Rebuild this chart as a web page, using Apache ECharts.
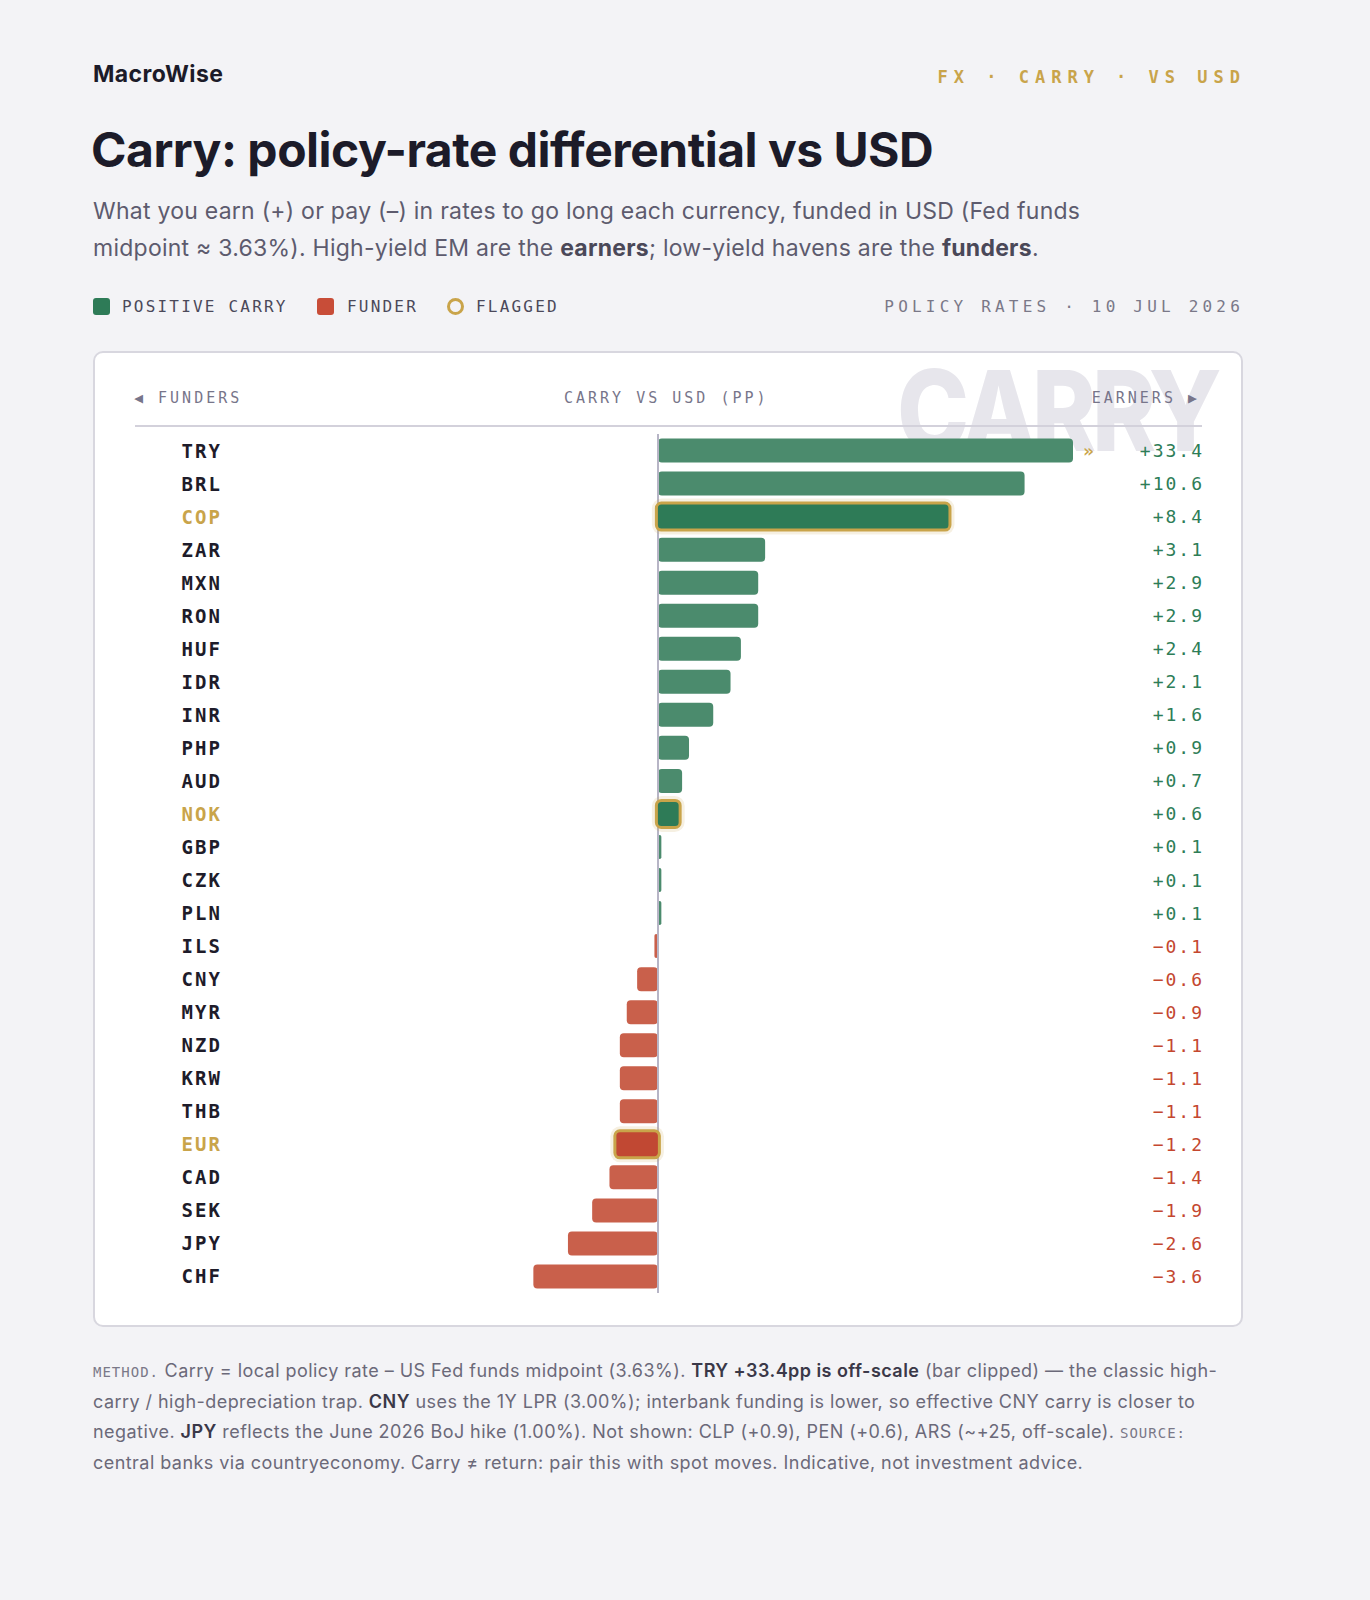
<!DOCTYPE html>
<html lang="en">
<head>
<meta charset="UTF-8">
<title>Carry: policy-rate differential vs USD</title>
<style>
  html, body { margin: 0; padding: 0; }
  body { width: 1370px; height: 1600px; background: #f3f3f6; position: relative; overflow: hidden;
         font-family: Inter, "Noto Sans", sans-serif; }
  .abs { position: absolute; white-space: nowrap; }
  .mono { font-family: "DejaVu Sans Mono", monospace; }
  #brand { left: 93px; top: 63px; font-size: 23px; line-height: 23px; font-weight: 700; color: #1c1b29; letter-spacing: 0.4px; }
  #kicker { right: 124px; top: 69px; font-size: 17px; line-height: 17px; font-weight: 700; color: #c9a44a; letter-spacing: 6px; }
  #title { left: 91px; top: 126px; font-size: 48px; line-height: 48px; font-weight: 700; color: #1c1b29; letter-spacing: -0.5px; }
  #sub { left: 93px; top: 193px; font-size: 23px; line-height: 37px; color: #5d5b6e; letter-spacing: 0.25px; }
  #sub b { color: #4a4858; font-weight: 700; }
  .leg { top: 299px; font-size: 16px; line-height: 16px; color: #4b495a; letter-spacing: 2.2px; }
  .sw { position: absolute; top: 298px; width: 17px; height: 17px; border-radius: 3px; }
  #asof { right: 126px; top: 299px; font-size: 16px; line-height: 16px; color: #7a7888; letter-spacing: 4.2px; }
  #card { left: 93px; top: 351px; width: 1146px; height: 972px; background: #fff; border: 2px solid #d8d7df; border-radius: 10px; }
  #mark { left: 897px; top: 354px; font-size: 112px; line-height: 112px; font-weight: 800; color: #e7e6ec;
          letter-spacing: -5px; transform: scaleX(0.866); transform-origin: 0 0; }
  .hd { top: 391px; font-size: 15px; line-height: 15px; color: #77758a; letter-spacing: 3px; }
  #rule { left: 135px; top: 425px; width: 1067px; height: 2px; background: #d3d1db; }
  #chart { position: absolute; left: 0; top: 0; width: 1370px; height: 1600px; letter-spacing: 2px; }
  #foot { left: 93px; top: 1356px; font-size: 18px; line-height: 30px; color: #6b6979; letter-spacing: 0.45px; }
  #foot b { color: #3a3848; font-weight: 600; }
  #foot .tag { font-family: "DejaVu Sans Mono", monospace; font-size: 14px; letter-spacing: 1px; color: #7a7888; }
</style>
</head>
<body>

  <div id="brand" class="abs">MacroWise</div>
  <div id="kicker" class="abs mono">FX · CARRY · VS USD</div>
  <div id="title" class="abs">Carry: policy-rate differential vs USD</div>
  <div id="sub" class="abs">What you earn (+) or pay (–) in rates to go long each currency, funded in USD (Fed funds<br>midpoint ≈ 3.63%). High-yield EM are the <b>earners</b>; low-yield havens are the <b>funders</b>.</div>

  <div class="sw" style="left:93px; background:#2e7b57;"></div>
  <div class="abs mono leg" style="left:122px;">POSITIVE CARRY</div>
  <div class="sw" style="left:317px; background:#c84d38;"></div>
  <div class="abs mono leg" style="left:347px;">FUNDER</div>
  <div class="sw" style="left:447px; top:298px; width:11px; height:11px; border:3px solid #c9a44a; border-radius:50%;"></div>
  <div class="abs mono leg" style="left:476px;">FLAGGED</div>
  <div id="asof" class="abs mono">POLICY RATES · 10 JUL 2026</div>

  <div id="card" class="abs"></div>
  <div id="mark" class="abs">CARRY</div>
  <div class="abs mono hd" style="left:134px;">◀ FUNDERS</div>
  <div class="abs mono hd" style="left:564px;">CARRY VS USD (PP)</div>
  <div class="abs mono hd" style="right:170px;">EARNERS ▶</div>
  <div id="rule" class="abs"></div>

  <div id="chart"></div>

  <div id="foot" class="abs"><span class="tag">METHOD.</span> Carry = local policy rate – US Fed funds midpoint (3.63%). <b>TRY +33.4pp is off-scale</b> (bar clipped) — the classic high-<br>carry / high-depreciation trap. <b>CNY</b> uses the 1Y LPR (3.00%); interbank funding is lower, so effective CNY carry is closer to<br>negative. <b>JPY</b> reflects the June 2026 BoJ hike (1.00%). Not shown: CLP (+0.9), PEN (+0.6), ARS (~+25, off-scale). <span class="tag">SOURCE:</span><br>central banks via countryeconomy. Carry ≠ return: pair this with spot moves. Indicative, not investment advice.</div>

  <script src="https://cdn.jsdelivr.net/npm/echarts@6/dist/echarts.min.js"></script>
  <script type="text/javascript">
    // currencies, top to bottom
    var currencies = ['TRY', 'BRL', 'COP', 'ZAR', 'MXN', 'RON', 'HUF', 'IDR', 'INR', 'PHP', 'AUD', 'NOK', 'GBP',
                      'CZK', 'PLN', 'ILS', 'CNY', 'MYR', 'NZD', 'KRW', 'THB', 'EUR', 'CAD', 'SEK', 'JPY', 'CHF'];
    // carry vs USD, percentage points
    var carry = [33.4, 10.6, 8.4, 3.1, 2.9, 2.9, 2.4, 2.1, 1.6, 0.9, 0.7, 0.6, 0.1,
                 0.1, 0.1, -0.1, -0.6, -0.9, -1.1, -1.1, -1.1, -1.2, -1.4, -1.9, -2.6, -3.6];
    var flagged = ['COP', 'NOK', 'EUR'];
    // axis range, bars beyond max are clipped
    var xMin = -15, xMax = 12;

    var GREEN = '#4b8b6d', GREEN_DARK = '#2e7b57';
    var RED = '#c9604b', RED_DARK = '#c14833';
    var GOLD = '#c9a44a';
    var MONO = '"DejaVu Sans Mono", monospace';
    var BAR_H = 24;

    function fmt(v) {
      return (v >= 0 ? '+' : '\u2212') + Math.abs(v).toFixed(1);
    }

    // plain bars (flagged rows are drawn by the custom series)
    var barData = [];
    var flagData = [];
    for (var i = 0; i < carry.length; i++) {
      var v = carry[i];
      if (flagged.indexOf(currencies[i]) >= 0) {
        barData.push('-');
        flagData.push([Math.min(v, xMax), i]);
        continue;
      }
      var item = {
        value: Math.min(v, xMax),
        itemStyle: { color: v >= 0 ? GREEN : RED, borderRadius: 4 }
      };
      if (v > xMax) {
        item.label = {
          show: true, position: 'right', distance: 10, formatter: '\u00bb',
          color: GOLD, fontSize: 18, fontWeight: 'bold', fontFamily: MONO
        };
      }
      barData.push(item);
    }
    var valueLabels = carry.map(fmt);

    var myChart = echarts.init(document.getElementById('chart'), null, { renderer: 'svg' });
    var option = {
      animation: false,
      grid: { left: 139, right: 297, top: 434, bottom: 307, containLabel: false },
      xAxis: {
        type: 'value', min: xMin, max: xMax, show: false
      },
      yAxis: [{
        type: 'category',
        data: currencies,
        inverse: true,
        axisLine: { show: false },
        axisTick: { show: false },
        axisLabel: {
          align: 'left', margin: -42.5,
          fontFamily: MONO, fontSize: 19, fontWeight: 'bold',
          color: function (val, idx) {
            return flagged.indexOf(currencies[idx]) >= 0 ? GOLD : '#1e1c2a';
          }
        }
      }, {
        type: 'category',
        data: valueLabels,
        inverse: true,
        position: 'right',
        axisLine: { show: false },
        axisTick: { show: false },
        axisLabel: {
          align: 'right', margin: 131,
          fontFamily: MONO, fontSize: 18,
          color: function (val, idx) {
            return carry[idx] >= 0 ? '#2e7d57' : '#c4472f';
          }
        }
      }],
      series: [{
        type: 'bar',
        data: barData,
        barWidth: BAR_H,
        z: 2,
        markLine: {
          silent: true,
          symbol: 'none',
          label: { show: false },
          lineStyle: { color: '#b7b5c6', width: 2, type: 'solid' },
          data: [{ xAxis: 0 }]
        }
      }, {
        type: 'custom',
        data: flagData,
        encode: { x: 0, y: 1 },
        z: 10,
        renderItem: function (params, api) {
          var v = api.value(0);
          var p0 = api.coord([0, api.value(1)]);
          var p1 = api.coord([v, api.value(1)]);
          var x0 = Math.min(p0[0], p1[0]), w = Math.abs(p1[0] - p0[0]);
          var y0 = p0[1] - BAR_H / 2;
          return {
            type: 'group',
            children: [{
              type: 'rect',
              shape: { x: x0 - 6, y: y0 - 6, width: w + 12, height: BAR_H + 12, r: 10 },
              style: { fill: 'rgba(201,164,74,0.16)' }
            }, {
              type: 'rect',
              shape: { x: x0 - 1.5, y: y0 - 1.5, width: w + 3, height: BAR_H + 3, r: 5 },
              style: { fill: v >= 0 ? GREEN_DARK : RED_DARK, stroke: GOLD, lineWidth: 3 }
            }]
          };
        }
      }]
    };
    myChart.setOption(option);
  </script>
</body>
</html>
